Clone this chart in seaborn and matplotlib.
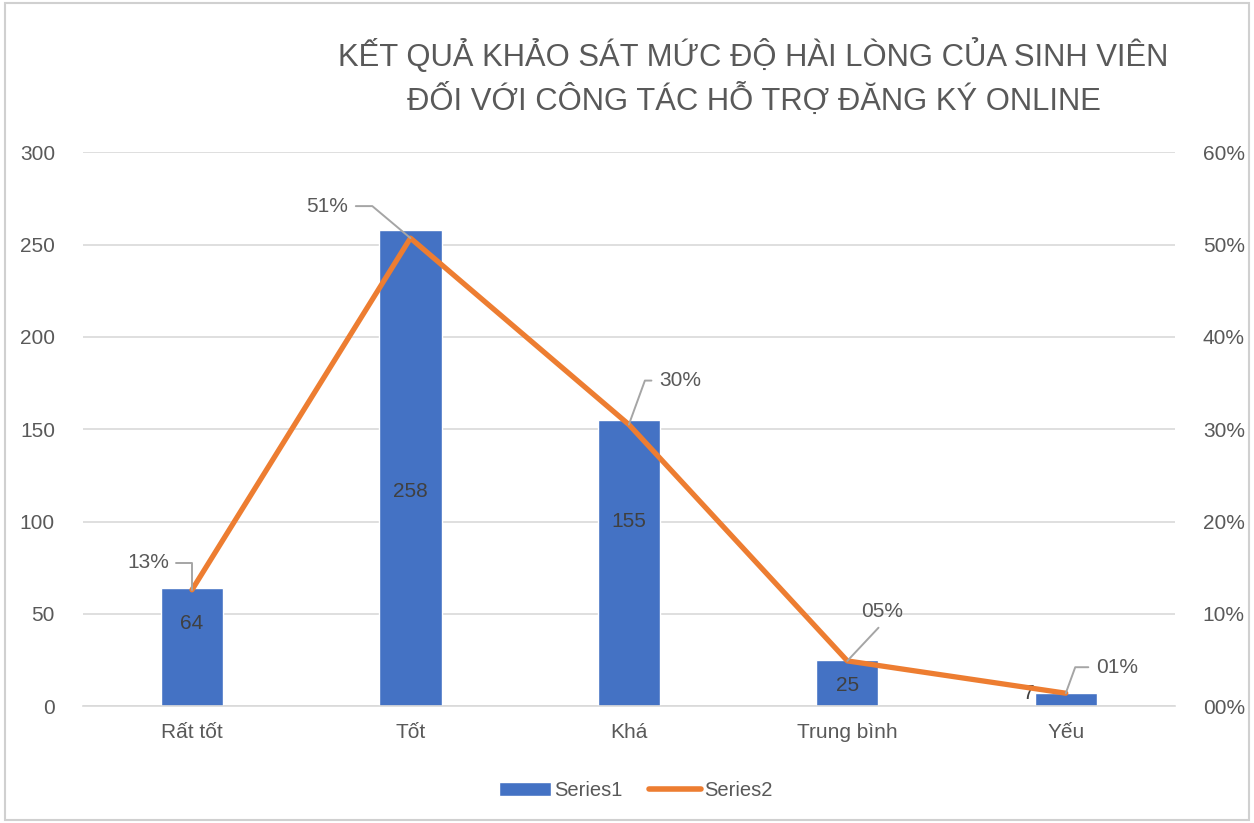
import numpy as np
import pandas as pd
import seaborn as sns
import matplotlib.pyplot as plt
from matplotlib.patches import Rectangle
from matplotlib.lines import Line2D
from matplotlib.patches import Patch
from matplotlib.ticker import FuncFormatter

# Dữ liệu khảo sát
categories = ['Rất tốt', 'Tốt', 'Khá', 'Trung bình', 'Yếu']
series1 = [64, 258, 155, 25, 7]
series2 = [0.126, 0.507, 0.305, 0.049, 0.014]
pct_labels = ['13%', '51%', '30%', '05%', '01%']

title = 'KẾT QUẢ KHẢO SÁT MỨC ĐỘ HÀI LÒNG CỦA SINH VIÊN\nĐỐI VỚI CÔNG TÁC HỖ TRỢ ĐĂNG KÝ ONLINE'

BLUE = '#4472C4'
ORANGE = '#ED7D31'
GREY = '#595959'

sns.set_style('white')
plt.rcParams['font.family'] = ['Liberation Sans', 'DejaVu Sans']

df = pd.DataFrame({'cat': categories, 's1': series1, 's2': series2})

fig = plt.figure(figsize=(12.54, 8.23), dpi=100)
ax = fig.add_axes([0.066, 0.142, 0.871, 0.673])

sns.barplot(data=df, x='cat', y='s1', color=BLUE, width=0.285, saturation=1, ax=ax, zorder=2)
ax.set_ylim(0, 300)
ax.set_yticks(range(0, 301, 50))
ax.set_xlim(-0.5, 4.5)
ax.grid(axis='y', color='#D9D9D9', linewidth=1.2, zorder=0)
ax.set_axisbelow(True)
for s in ['left', 'right', 'top']:
    ax.spines[s].set_visible(False)
ax.spines['bottom'].set_color('#D9D9D9')
ax.spines['bottom'].set_linewidth(1.2)
ax.tick_params(axis='both', length=0, labelsize=15, labelcolor=GREY, pad=12)
ax.tick_params(axis='y', pad=20)
ax.set_xlabel('')
ax.set_ylabel('')

ax2 = ax.twinx()
sns.lineplot(x=np.arange(len(categories)), y=series2, color=ORANGE, linewidth=3.8, ax=ax2, zorder=3,
             solid_capstyle='round')
ax2.set_ylim(0, 0.6)
ax2.set_yticks(np.arange(0, 0.61, 0.1))
ax2.yaxis.set_major_formatter(FuncFormatter(lambda v, p: f'{round(v * 100):02d}%'))
ax2.tick_params(axis='y', length=0, labelsize=15, labelcolor=GREY, pad=20)
for s in ax2.spines.values():
    s.set_visible(False)
ax2.set_ylabel('')

# nhãn giá trị cột
bar_label_y = [45, 116, 100, 11, 7]
bar_label_dx = [0, 0, 0, 0, -0.17]
for i, v in enumerate(series1):
    ax.text(i + bar_label_dx[i], bar_label_y[i], str(v), ha='center', va='center',
            fontsize=15, color='#404040', zorder=5)

# nhãn phần trăm với đường dẫn
pct_offsets = [(-44, 27), (-83, 32), (51, 44), (35, 49), (51, 26)]
pct_relpos = [(1, 0.5), (1, 0.5), (0, 0.5), (0.55, 0), (0, 0.5)]
pct_conn = ['angle,angleA=0,angleB=90,rad=0', 'angle,angleA=0,angleB=140,rad=0',
            'angle,angleA=0,angleB=70,rad=0', 'arc3,rad=0', 'angle,angleA=0,angleB=70,rad=0']
for i, (v, lab) in enumerate(zip(series2, pct_labels)):
    ax2.annotate(lab, xy=(i, v), xytext=pct_offsets[i], textcoords='offset pixels',
                 ha='center', va='center', fontsize=15, color=GREY, zorder=6,
                 arrowprops=dict(arrowstyle='-', color='#A5A5A5', lw=1.4,
                                 relpos=pct_relpos[i], connectionstyle=pct_conn[i],
                                 shrinkA=3, shrinkB=0))

fig.text(0.601, 0.906, title, ha='center', va='center', fontsize=22.3, color=GREY,
         linespacing=1.4)

handles = [Patch(facecolor=BLUE, label='Series1'),
           Line2D([0], [0], color=ORANGE, lw=4, label='Series2', solid_capstyle='round')]
fig.legend(handles=handles, loc='center', bbox_to_anchor=(0.507, 0.039), ncol=2,
           frameon=False, fontsize=14.5, labelcolor=GREY, handlelength=2.6,
           handletextpad=0.15, columnspacing=1.3)

fig.patches.append(Rectangle((0.004, 0.004), 0.992, 0.992, transform=fig.transFigure,
                             fill=False, edgecolor='#D0D0D0', linewidth=1.5))

fig.savefig('out.png', dpi=100)
